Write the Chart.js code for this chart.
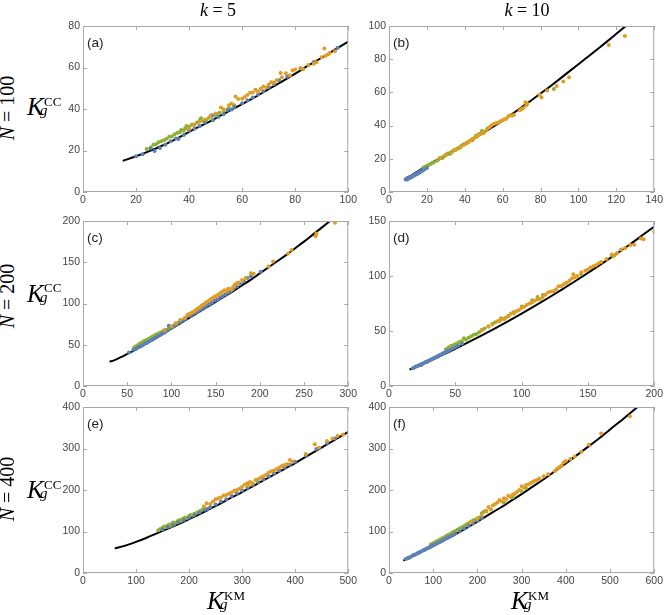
<!DOCTYPE html>
<html>
<head>
<meta charset="utf-8">
<script src="https://cdn.jsdelivr.net/npm/chart.js@4.4.0/dist/chart.umd.min.js"></script>
<style>
  body { margin: 0; background: #fff; width: 665px; height: 615px; position: relative; overflow: hidden; }
  canvas { position: absolute; }
  .t { position: absolute; font-family: 'Liberation Serif', 'Times New Roman', serif; line-height: 1; white-space: nowrap; color: #000; }
</style>
</head>
<body>
<canvas id="pa" width="306" height="194" style="left:53px;top:16px"></canvas>
<canvas id="pb" width="306" height="194" style="left:359px;top:16px"></canvas>
<canvas id="pc" width="306" height="193" style="left:53px;top:211px"></canvas>
<canvas id="pd" width="306" height="193" style="left:359px;top:211px"></canvas>
<canvas id="pe" width="306" height="194" style="left:53px;top:397px"></canvas>
<canvas id="pf" width="306" height="194" style="left:359px;top:397px"></canvas>
<script>
// datos: pares [K_KM, K_CC]
// (a) N=100, k=5
var aCurve = [[15,15],[20,17.2],[25,19.7],[30,22.4],[35,25.5],[40,29],[45,32.2],[50,35.5],[55,39],[60,42.3],[65,45.8],[70,49.6],[75,53.2],[80,57],[85,61],[90,64.7],[95,68.6],[100,72.5]];
var aBlue = [[20,17.2],[22.5,18.2],[25.5,21],[27,19.8],[29,21.2],[31,22.8],[33,24.5],[35,25.8],[36,25.5],[38,27.5],[40,29.6],[42,30.5],[44,31.8],[46,33.5],[48.5,37],[49,34.6],[51,36.2],[53,37.5],[54.5,39.5],[56,39.8],[57,41],[60,42.8],[62,44.2],[64,45.5],[66,47],[68,48.5],[70,50.4],[72,52],[74,53.8],[77,55.5],[82,59.5],[87,62.6],[96,69.5]];
var aGreen = [[24,20.7],[25.5,21.5],[26.5,22.8],[27.5,23],[28.5,24],[29.5,24.4],[30.5,24.9],[31.5,25.7],[32.5,26.6],[33.5,26.8],[34.5,27.8],[35.5,28.4],[36.5,28.8],[37,29.9],[38,29.5],[38.5,30.6],[39,31.8],[40,31.5],[41,32.4],[42,32.5],[43,33.5],[44,34.5],[44.5,35.5],[45.5,34.1],[46.5,34.8],[47.5,35.8],[48.5,36.5],[49.5,37],[50.5,37.6],[51.5,38.2],[53,39],[55,40.4],[57,41.8]];
var aOrange = [[40,30.6],[42,32.3],[44,33.8],[46,35],[48,36.6],[50,37.8],[52,40.7],[53,39.9],[55,41.8],[56,42.7],[57.5,46],[58.5,44.8],[60,44.9],[61,45.8],[62,46.7],[63,47.8],[64,47.9],[65,49.3],[66,48.4],[67,49.8],[68,50.8],[69,50.4],[70,51.8],[71,52.9],[72,52.7],[73,53.9],[74.5,57.3],[75,55.3],[76.5,57.2],[78,56.1],[79,58.6],[80,59],[82,59.8],[83,59.2],[85,61.2],[87,61.8],[88,62.5],[90,65],[91,69.2],[91.5,65.7],[92.5,66.4],[93,67],[95,67.8]];

// (b) N=100, k=10
var bCurve = [[8,7.6],[10,8.9],[15,12.3],[20,16],[25,19.2],[30,22.4],[35,25.7],[40,29],[45,32.4],[50,35.8],[55,39.4],[60,43],[65,47],[70,51],[75,55.1],[80,59.3],[85,63.6],[90,68],[95,72.5],[100,77],[105,81.5],[110,86],[115,90.6],[120,95.3],[125,100]];
var bBlue = [[8.8,7.5],[9.2,7.8],[9.6,7.6],[10,8.1],[10.4,8.3],[10.8,8.5],[11.2,8.9],[11.6,9.1],[12,9.4],[12.4,9.5],[12.8,9.9],[13.2,10.1],[13.6,10.4],[14,10.6],[14.4,10.9],[14.8,11.1],[15.2,11.4],[15.6,11.5],[16,11.9],[16.5,12.2],[17,12.5],[17.5,12.8],[18,13.1],[19,13.8],[20,14.4],[10.2,8],[11,8.6],[12.2,9.2],[13,9.8],[14.2,10.5],[15,11],[16.2,11.7]];
var bGreen = [[18,14.6],[19,15.2],[20,15.5],[21,16.3],[22,16.8],[23.5,17.6],[25,18.9],[26,19.4],[27,20.3],[28,20.4],[29,21.6],[30,22.4],[31,23.2],[32,22.9],[33,24.1],[34,25],[35,25.3],[36,26.1],[37,26.6],[38,27.6],[39,28.5],[40,29],[41,29.6],[42,30.1],[44,31.2],[46,34],[47.5,35],[49,36.8],[50,36.2],[52,38.2],[87,62]];
var bOrange = [[27,20.6],[30,22.2],[33,23.7],[35,25.6],[37,26.3],[38,27.2],[40,28.6],[41,29.4],[42,30.2],[43,31.1],[44,32],[45,32.6],[46,33.2],[47,34.1],[48,35],[49,35.3],[50,35.6],[51.5,37.4],[53,39],[54,40],[55,40.8],[56,41.3],[57,41.6],[58,42],[59,42.6],[60,43.2],[61,43.8],[62,44.2],[63,45.8],[64,46.2],[65,46],[66,46.6],[69,49.2],[70,50],[71,50.6],[72,54],[72.5,52.2],[73,53.2],[79.5,58.6],[80.5,57],[83.5,61.2],[88.5,63.8],[92,66.6],[95,69.2],[116,88.6],[124.5,94]];

// (c) N=200, k=5
var cCurve = [[30,29.5],[35,31],[40,33.5],[45,36],[50,38.8],[60,44.5],[70,50.5],[80,56.5],[90,63],[100,69.5],[110,76],[120,82.5],[130,89],[140,95.5],[150,102],[160,108.5],[170,115],[180,122],[190,129],[200,136.5],[210,144],[220,151.5],[230,159],[240,167],[250,175],[260,183.5],[270,192],[280,200.5]];
var cBlue = [[52,40.5],[57,44],[60,45.3],[62,46.8],[64,47.5],[66,48.5],[68,50],[70,51.5],[72,52.2],[74,53.6],[76,55],[78,56],[80,57.3],[82,58.6],[85,60.8],[88,62.2],[90,63.5],[92,64.6],[95,67],[97,73],[100,70.5],[103,72],[106,74.5],[110,77.5],[113,79.5],[116,81.5],[119,86.5],[122,85],[125,87.5],[128,89],[131,91],[134,93],[137,95],[140,97.2],[143,99],[146,101],[149,103.5],[152,105],[155,107],[158,109],[161,111],[164,113],[167,115],[170,117.5],[174,120.5],[178,124],[182,127],[186,131],[190,133],[201,138.5]];
var cGreen = [[58,46.7],[60,48.1],[62,49.5],[63.5,50.7],[65,51.7],[66.5,52.5],[68,53.5],[69.5,54.5],[71,55.3],[72.5,56.1],[74,57.1],[75.5,57.7],[77,58.9],[78.5,59.7],[80,60.5],[81.5,61.7],[83,62.2],[84.5,63],[86,63.9],[88,64.9],[90,66],[92,67.5],[94,68],[97,69.5],[100,72],[104,75],[107,76.5],[110,78.5]];
var cOrange = [[92,67.2],[100,72.5],[105,76],[110,80.2],[115,82.5],[118,85.5],[120,87.2],[122,88.3],[124,89.5],[126,90.6],[128,92.4],[130,94],[132,95.3],[134,97.5],[136,98.5],[138,100],[140,101.8],[142,103],[144,104.8],[146,106.2],[148,107.6],[150,108.8],[152,110],[154,111.5],[156,113],[158,114.5],[160,116],[162,115],[164,117.5],[166,118],[168,117],[170,120.5],[172,123],[174,124.2],[176,125.5],[180,128.5],[184,131],[190,136.8],[193,136],[210,145],[215,151],[232,160.5],[236,165],[263,181.5],[264,185],[285,198]];

// (d) N=200, k=10
var dCurve = [[15.5,15],[20,17.2],[30,22.5],[40,28],[50,33.8],[60,39.8],[70,46],[80,52.4],[90,59],[100,65.8],[110,72.8],[120,80],[130,87.4],[140,95],[150,102.8],[160,110.8],[170,119],[180,127.3],[190,136],[200,145]];
var dBlue = [[18,16.2],[19,16.8],[20,17.4],[21,17.9],[22,18.5],[23,19],[24,19.6],[25,20.1],[26,20.7],[27,21.3],[28,21.8],[29,22.4],[30,23],[31,23.6],[32,24.2],[33,24.8],[34,25.4],[35,26],[36,26.6],[37,27.2],[38,27.9],[39,28.5],[40,29.2],[41,29.8],[42,30.4],[43,31],[44,31.6],[46,32.8],[48,34],[50,35.2],[52,36.5],[55,38.5],[24.5,19.2],[28.5,21.9],[32.5,24.3],[36.5,26.7],[40.5,29.3],[44.5,32]];
var dGreen = [[43,33.5],[45,35.3],[47,36.7],[49,37.5],[51,38.7],[53,39.9],[55,40.7],[56.5,43.3],[58,42.1],[60,43.9],[62,45.3],[64,46.7],[66,47.3],[68,48.9],[70,50.8],[72,52.3],[75,54.3],[78,56.7],[80,57.9],[83,58.9],[84.5,61.5],[87,60.9],[90,63.9],[94,67.1],[100,72.3],[108,78],[112,81],[116,82.7],[145,101.6],[169,118]];
var dOrange = [[70,51],[75,53.8],[78,55.9],[82,58.8],[84,59.9],[86,60.8],[88,62],[90,63.5],[92,65.8],[94,66],[96,67.9],[98,69],[100,71],[102,72],[104,73.9],[106,75],[108,76],[110,77.8],[112,78.9],[114,79],[116,80.9],[118,83],[120,84.9],[122,85.8],[124,86.1],[126,87.9],[128,90.7],[130,91],[132,92.8],[134,93.9],[136,95.7],[138,97.7],[139,101.5],[140,98.9],[142,99.9],[145,103.5],[148,104.7],[150,105.9],[152,107.7],[154,108.8],[156,109.8],[158,111.7],[160,112.8],[164,115.5],[168,119.5],[170,118.9],[172,120.8],[175,124],[178,125.3],[182,128.2],[185,128.5],[190,134],[192,133.5],[200,140.5]];

// (e) N=400, k=5
var eCurve = [[60,59],[80,66],[100,75],[120,85],[140,96],[160,107],[180,118],[200,130],[220,142],[240,155],[260,168],[280,182],[300,195],[320,209],[340,223],[360,237],[380,251],[400,265],[420,280],[440,295],[460,310],[480,325],[500,340]];
var eBlue = [[150,105],[160,111],[170,116.5],[180,122],[190,128],[200,134],[210,139.5],[220,146],[230,152.5],[235,155],[240,159],[250,165],[260,172],[270,178],[280,185.5],[290,192],[300,199],[310,205.5],[320,212],[330,219],[340,226],[350,233],[360,240],[370,247],[380,254],[390,261],[400,268],[420,283],[440,299],[460,313],[475,324]];
var eGreen = [[142,103],[146,106],[150,109],[153,112],[156,110],[159,114],[162,116],[165,113.5],[168,119],[170,121.5],[172,118],[175,121],[178,125],[180,123],[182,127.5],[185,125.5],[188,130],[190,131.5],[193,133.5],[196,132.5],[200,137.5],[203,139.5],[206,138.5],[210,142.5],[215,145.5],[220,149],[225,153]];
var eOrange = [[228,160],[233,168],[240,166],[245,172],[250,178],[255,180],[260,182],[265,187],[270,188],[275,191],[280,194],[285,198],[290,200],[295,203],[300,208],[305,213],[310,216],[312,210],[315,219],[320,216],[325,224],[330,226],[335,230],[340,233],[345,237],[350,242],[355,245],[360,247],[365,250],[370,254],[375,258],[380,260],[385,262],[390,272],[395,268],[420,287],[437,310],[445,302],[460,318],[470,324],[480,330],[490,334]];

// (f) N=400, k=10
var fCurve = [[32,30],[50,39],[75,52],[100,65],[125,79],[150,93],[175,108],[200,124],[225,140],[250,156],[275,173],[300,190],[325,208],[350,226],[375,245],[400,264],[425,284],[450,304],[475,324],[500,346],[525,367],[550,389],[562,400]];
var fBlue = [[38,33.5],[42,35.5],[46,37.5],[50,40],[54,42],[58,44],[62,46],[66,48.5],[70,50.5],[74,52.5],[78,55],[82,57],[86,59],[90,61.5],[94,63.5],[98,66],[102,68],[106,70],[110,72],[115,74.5],[120,77.5],[125,80.5],[130,83.5],[135,86],[140,89],[145,92],[150,95],[160,101],[170,107],[180,113.5],[190,119.5],[200,126],[210,132.5],[44,36],[56,43],[68,49],[80,55.5],[92,62]];
var fGreen = [[95,69],[100,71.5],[105,75],[110,78],[115,80.5],[120,83.5],[125,86],[130,89.5],[135,92],[140,95],[145,98.5],[150,101],[155,104.5],[160,107.5],[165,110.5],[170,113.5],[175,117],[180,120],[185,123.5],[190,126.5],[195,128.5],[200,132],[205,134],[210,144],[215,148],[220,150],[230,153],[260,170],[280,182],[300,197],[310,204]];
var fOrange = [[185,123],[200,131],[210,140],[220,148],[225,159],[230,154],[235,163],[240,166],[245,170],[250,176],[255,172],[260,180],[265,178],[270,186],[275,183],[280,189],[285,191],[290,196],[295,200],[300,209],[305,206],[310,212],[315,213],[320,216],[325,219],[330,222],[335,224],[340,228],[350,233],[360,238],[375,246],[380,251],[385,255],[390,259],[395,266],[400,270],[410,275],[420,281],[435,292],[452,309],[480,336],[545,378]];

// limites de ejes [xMax, xPaso, yMax, yPaso]
var ejes = {
  pa: [100, 20, 80, 20],
  pb: [140, 20, 100, 20],
  pc: [300, 50, 200, 50],
  pd: [200, 50, 150, 50],
  pe: [500, 100, 400, 100],
  pf: [600, 100, 400, 100]
};

var AZUL = "#5E81B5";
var VERDE = "#8FB032";
var NARANJA = "#E19C24";
var MARCO = "#a8a8a8";

function aPuntos(arr) {
  return arr.map(function (p) { return { x: p[0], y: p[1] }; });
}

// dibuja el marco gris con marcas hacia adentro en los 4 lados y la letra del panel
var marcoPlugin = {
  id: "marco",
  afterDraw: function (chart) {
    var ctx = chart.ctx;
    var a = chart.chartArea;
    var sx = chart.scales.x, sy = chart.scales.y;
    ctx.save();
    ctx.strokeStyle = MARCO;
    ctx.lineWidth = 1;
    ctx.strokeRect(a.left + 0.5, a.top + 0.5, a.right - a.left - 1, a.bottom - a.top - 1);
    ctx.beginPath();
    sx.ticks.forEach(function (t) {
      var px = Math.round(sx.getPixelForValue(t.value)) + 0.5;
      ctx.moveTo(px, a.bottom); ctx.lineTo(px, a.bottom - 4);
      ctx.moveTo(px, a.top); ctx.lineTo(px, a.top + 4);
    });
    sy.ticks.forEach(function (t) {
      var py = Math.round(sy.getPixelForValue(t.value)) + 0.5;
      ctx.moveTo(a.left, py); ctx.lineTo(a.left + 4, py);
      ctx.moveTo(a.right, py); ctx.lineTo(a.right - 4, py);
    });
    ctx.stroke();
    ctx.fillStyle = "#222";
    ctx.font = "13.5px 'Liberation Sans', Arial, sans-serif";
    ctx.textBaseline = "alphabetic";
    ctx.fillText(chart.options.plugins.marco.letra, a.left + 4, a.top + 21);
    ctx.restore();
  }
};

function crearPanel(id, letra, curva, azul, verde, naranja) {
  var e = ejes[id];
  return new Chart(document.getElementById(id), {
    type: "scatter",
    data: {
      // el primer dataset queda encima: puntos sobre la curva
      datasets: [
        { data: aPuntos(naranja), backgroundColor: NARANJA, borderWidth: 0, pointRadius: 2 },
        { data: aPuntos(azul), backgroundColor: AZUL, borderWidth: 0, pointRadius: 2 },
        { data: aPuntos(verde), backgroundColor: VERDE, borderWidth: 0, pointRadius: 2 },
        {
          type: "line",
          data: aPuntos(curva),
          borderColor: "#000",
          borderWidth: 2,
          pointRadius: 0,
          fill: false,
          cubicInterpolationMode: "monotone"
        }
      ]
    },
    options: {
      responsive: false,
      devicePixelRatio: 1,
      animation: false,
      events: [],
      layout: { padding: { left: 0, right: 10, top: 10, bottom: 0 } },
      plugins: { legend: { display: false }, tooltip: { enabled: false }, marco: { letra: letra } },
      scales: {
        x: {
          type: "linear",
          min: 0, max: e[0],
          grid: { display: false, drawTicks: false },
          border: { display: false },
          ticks: { stepSize: e[1], autoSkip: false, maxRotation: 0, padding: 2, color: "#444",
                   font: { family: "'Liberation Sans', Arial, sans-serif", size: 10.5 } },
          afterFit: function (s) { s.height = 18; }
        },
        y: {
          type: "linear",
          min: 0, max: e[2],
          grid: { display: false, drawTicks: false },
          border: { display: false },
          ticks: { stepSize: e[3], padding: 3, color: "#444",
                   font: { family: "'Liberation Sans', Arial, sans-serif", size: 10.5 } },
          afterFit: function (s) { s.width = 30; }
        }
      }
    },
    plugins: [marcoPlugin]
  });
}

crearPanel("pa", "(a)", aCurve, aBlue, aGreen, aOrange);
crearPanel("pb", "(b)", bCurve, bBlue, bGreen, bOrange);
crearPanel("pc", "(c)", cCurve, cBlue, cGreen, cOrange);
crearPanel("pd", "(d)", dCurve, dBlue, dGreen, dOrange);
crearPanel("pe", "(e)", eCurve, eBlue, eGreen, eOrange);
crearPanel("pf", "(f)", fCurve, fBlue, fGreen, fOrange);

// textos: x izquierda, linea base, tamaño
function texto(html, x, base, size, centrado) {
  var d = document.createElement("div");
  d.className = "t";
  d.innerHTML = html;
  d.style.fontSize = size + "px";
  d.style.left = x + "px";
  d.style.top = (base - 0.8375 * size) + "px";
  if (centrado) d.style.transform = "translateX(-50%)";
  document.body.appendChild(d);
}

function textoVertical(html, cx, cy, size) {
  var d = document.createElement("div");
  d.className = "t";
  d.innerHTML = html;
  d.style.fontSize = size + "px";
  d.style.left = cx + "px";
  d.style.top = cy + "px";
  d.style.transform = "translate(-50%,-50%) rotate(-90deg)";
  document.body.appendChild(d);
}

function etiquetaK(x, base, sup) {
  texto("<i>K</i>", x, base, 25);
  texto(sup, x + 17, base - 9.5, 13);
  texto("<i>g</i>", x + 13, base + 1, 15);
}

texto("<i>k</i> = 5", 218, 15.7, 18, true);
texto("<i>k</i> = 10", 527, 15.7, 18, true);

textoVertical("<i>N</i> = 100", 6.5, 108, 20);
textoVertical("<i>N</i> = 200", 6.5, 296, 20);
textoVertical("<i>N</i> = 400", 6.5, 489, 20);

etiquetaK(27, 115, "CC");
etiquetaK(27, 301.7, "CC");
etiquetaK(27, 498, "CC");

etiquetaK(207, 609, "KM");
etiquetaK(511, 609, "KM");
</script>
</body>
</html>
